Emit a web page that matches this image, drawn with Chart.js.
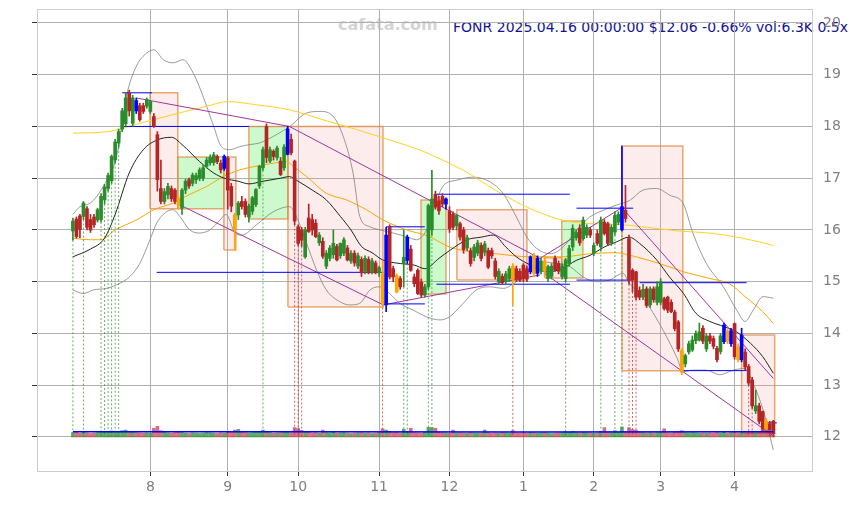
<!DOCTYPE html>
<html lang="en">
<head>
  <meta charset="UTF-8" />
  <title>FONR</title>
  <script src="https://cdn.jsdelivr.net/npm/chart.js"></script>
  <style>
    body { margin: 0; background: #fff; }
    .wrap { position: relative; width: 853px; height: 505px; overflow: hidden; font-family: "DejaVu Sans", sans-serif; }
    .wrap canvas { position: absolute; left: 0; top: 0; z-index: 1; }
    .mark { position: absolute; left: 338px; top: 15px; font-size: 16px; line-height: 20px; font-weight: bold; color: #d4d4d4; white-space: nowrap; }
    .title { position: absolute; left: 453px; top: 18px; font-size: 14px; line-height: 18px; color: #141496; white-space: nowrap; }
  </style>
</head>
<body>
  <div class="wrap">
    <div class="mark">cafata.com</div>
    <div class="title">FONR 2025.04.16 00:00:00 $12.06 -0.66% vol:6.3K 0.5x</div>
    <canvas id="chart" width="853" height="505"></canvas>
  </div>

  <script>
    // trading day index 0 = 2024-07-01, 199 = 2025-04-16
    const monthTicks = [22, 44, 64, 87, 107, 128, 148, 167, 188];
    const monthLabels = ['8', '9', '10', '11', '12', '1', '2', '3', '4'];
    const priceTicks = [12, 13, 14, 15, 16, 17, 18, 19, 20];

    const opens = [
      15.98, 16.21, 16.27, 16.26, 16.41, 16.20, 16.25, 16.19, 16.20, 16.58,
      16.80, 16.95, 17.35, 17.68, 17.95, 18.05, 18.65, 18.06, 18.50, 18.40,
      18.40, 18.39, 18.29, 18.19, 17.84, 16.80, 16.55, 16.68, 16.80, 16.77,
      16.61, 16.42, 16.77, 16.97, 16.90, 16.97, 17.00, 17.00, 17.23, 17.30,
      17.30, 17.42, 17.29, 17.19, 17.39, 16.84, 16.29, 16.29, 16.55, 16.55,
      16.25, 16.36, 16.49, 16.85, 17.20, 18.00, 17.33, 17.52, 17.40, 17.33,
      17.20, 17.46, 17.75, 17.33, 16.06, 16.00, 15.48, 16.23, 16.20, 16.13,
      15.75, 15.78, 15.30, 15.45, 15.52, 15.68, 15.50, 15.55, 15.65, 15.40,
      15.55, 15.30, 15.43, 15.20, 15.43, 15.18, 15.36, 15.17, 15.15, 14.55,
      16.06, 15.25, 15.12, 15.06, 15.35, 15.41, 15.63, 15.09, 15.22, 14.99,
      14.74, 14.90, 16.00, 16.69, 16.56, 16.65, 16.50, 16.37, 16.30, 16.08,
      16.12, 16.00, 15.65, 15.60, 15.47, 15.55, 15.70, 15.57, 15.60, 15.60,
      15.40, 15.00, 15.10, 15.00, 15.06, 15.30, 15.25, 15.20, 15.32, 15.25,
      15.19, 15.51, 15.16, 15.20, 15.40, 15.06, 15.10, 15.45, 15.35, 15.10,
      15.06, 15.35, 15.67, 15.85, 16.03, 15.83, 15.90, 16.00, 15.55, 15.93,
      15.67, 16.15, 16.12, 15.75, 15.96, 16.15, 16.00, 16.38, 15.83, 15.22,
      15.19, 14.83, 14.70, 14.86, 14.55, 14.86, 14.60, 14.60, 14.67, 14.70,
      14.60, 14.41, 14.22, 13.67, 13.41, 13.64, 13.68, 13.86, 13.87, 14.10,
      13.70, 13.95, 13.90, 13.71, 13.65, 13.84, 14.05, 13.80, 14.19, 13.74,
      13.49, 13.64, 13.36, 13.10, 12.50, 12.60, 12.49, 12.30, 12.25, 12.30
    ];
    const highs = [
      16.23, 16.25, 16.30, 16.55, 16.45, 16.30, 16.30, 16.42, 16.70, 16.88,
      17.10, 17.45, 17.75, 17.95, 18.35, 18.65, 18.70, 18.60, 18.55, 18.45,
      18.45, 18.55, 18.50, 18.25, 17.90, 17.35, 16.80, 16.90, 16.85, 16.80,
      16.65, 16.80, 16.98, 17.00, 17.10, 17.10, 17.20, 17.25, 17.40, 17.45,
      17.50, 17.45, 17.35, 17.45, 17.42, 16.90, 16.32, 16.55, 16.65, 16.60,
      16.50, 16.65, 16.80, 17.25, 17.60, 18.05, 17.60, 17.55, 17.62, 17.40,
      17.65, 18.00, 17.85, 17.35, 16.10, 16.05, 16.05, 16.50, 16.30, 16.20,
      15.95, 15.85, 15.60, 15.70, 16.00, 15.72, 15.75, 15.85, 15.70, 15.60,
      15.60, 15.55, 15.48, 15.50, 15.48, 15.45, 15.40, 15.30, 15.40, 16.05,
      16.10, 15.30, 15.15, 15.10, 16.00, 15.90, 15.70, 15.15, 15.25, 15.05,
      14.95, 16.50, 17.15, 16.75, 16.65, 16.70, 16.62, 16.45, 16.35, 16.30,
      16.15, 16.05, 15.90, 15.65, 15.72, 15.80, 15.75, 15.78, 15.65, 15.65,
      15.45, 15.25, 15.15, 15.20, 15.30, 15.35, 15.30, 15.25, 15.35, 15.30,
      15.50, 15.55, 15.50, 15.45, 15.50, 15.32, 15.35, 15.50, 15.40, 15.35,
      15.45, 15.70, 16.10, 16.00, 16.10, 16.25, 16.10, 16.05, 15.75, 16.00,
      16.25, 16.20, 16.15, 16.10, 16.35, 16.35, 17.62, 16.86, 15.90, 15.25,
      15.20, 14.90, 14.95, 14.90, 14.90, 14.90, 15.00, 15.06, 14.70, 14.72,
      14.65, 14.45, 14.25, 13.70, 13.60, 13.85, 13.95, 14.05, 14.20, 14.15,
      14.00, 14.00, 13.95, 13.75, 14.00, 14.20, 14.10, 14.10, 14.20, 13.80,
      14.10, 13.70, 13.40, 13.15, 12.90, 12.65, 12.50, 12.35, 12.30, 12.32
    ];
    const lows = [
      15.80, 15.84, 15.85, 16.20, 16.00, 15.95, 16.05, 16.15, 16.15, 16.50,
      16.75, 16.90, 17.30, 17.60, 17.90, 18.00, 18.20, 18.00, 18.25, 18.10,
      18.25, 18.35, 18.25, 17.98, 16.75, 16.50, 16.50, 16.60, 16.55, 16.50,
      16.40, 16.30, 16.70, 16.80, 16.85, 16.90, 16.95, 16.95, 17.20, 17.25,
      17.25, 17.28, 17.10, 17.15, 16.40, 16.35, 15.61, 16.20, 16.40, 16.25,
      16.15, 16.30, 16.45, 16.80, 17.15, 17.30, 17.30, 17.35, 17.35, 17.05,
      17.15, 17.45, 17.45, 16.10, 15.70, 15.68, 15.45, 15.95, 15.90, 15.85,
      15.70, 15.45, 15.25, 15.40, 15.45, 15.40, 15.45, 15.50, 15.40, 15.35,
      15.30, 15.25, 15.10, 15.15, 15.15, 15.15, 15.15, 15.10, 14.50, 14.42,
      15.05, 15.00, 14.78, 14.85, 14.90, 15.35, 15.20, 14.90, 14.75, 14.70,
      14.70, 14.85, 15.90, 16.40, 16.30, 16.45, 16.40, 15.95, 16.00, 16.00,
      15.80, 15.55, 15.60, 15.30, 15.40, 15.50, 15.40, 15.50, 15.25, 15.45,
      15.05, 14.95, 14.95, 14.95, 15.00, 14.55, 15.00, 15.00, 15.00, 15.00,
      15.15, 15.10, 15.10, 15.15, 15.10, 15.00, 15.05, 15.20, 15.15, 15.05,
      15.00, 15.30, 15.60, 15.80, 15.70, 15.80, 15.85, 15.85, 15.50, 15.70,
      15.60, 15.90, 15.70, 15.70, 15.90, 16.10, 15.98, 16.15, 14.95, 14.80,
      14.65, 14.65, 14.65, 14.50, 14.50, 14.60, 14.55, 14.55, 14.45, 14.40,
      14.40, 14.05, 13.65, 13.20, 13.35, 13.60, 13.65, 13.80, 13.85, 13.80,
      13.65, 13.80, 13.70, 13.45, 13.60, 13.80, 13.80, 13.75, 13.50, 13.45,
      13.45, 13.30, 13.00, 12.55, 12.45, 12.25, 12.10, 12.05, 12.02, 12.00
    ];
    const closes = [
      16.17, 15.87, 16.01, 16.52, 16.05, 16.00, 16.10, 16.39, 16.65, 16.83,
      17.05, 17.42, 17.70, 17.90, 18.30, 18.55, 18.30, 18.55, 18.30, 18.13,
      18.29, 18.52, 18.48, 18.00, 16.97, 16.55, 16.74, 16.84, 16.60, 16.55,
      16.48, 16.77, 16.94, 16.85, 17.06, 17.05, 17.16, 17.20, 17.35, 17.40,
      17.45, 17.32, 17.16, 17.42, 16.77, 16.46, 16.00, 16.52, 16.45, 16.30,
      16.46, 16.62, 16.78, 17.23, 17.55, 17.40, 17.55, 17.42, 17.58, 17.07,
      17.60, 17.95, 17.49, 16.17, 15.74, 15.80, 16.00, 15.97, 16.00, 15.87,
      15.90, 15.49, 15.55, 15.65, 15.74, 15.42, 15.74, 15.81, 15.42, 15.55,
      15.36, 15.50, 15.17, 15.45, 15.17, 15.40, 15.17, 15.27, 14.58, 15.90,
      15.09, 15.09, 14.80, 14.90, 15.47, 15.86, 15.22, 14.96, 14.77, 14.74,
      14.90, 16.47, 16.60, 16.44, 16.37, 16.50, 16.60, 16.02, 16.05, 16.28,
      15.86, 15.62, 15.85, 15.35, 15.67, 15.75, 15.45, 15.73, 15.28, 15.50,
      15.10, 15.20, 14.98, 15.15, 15.25, 15.05, 15.05, 15.03, 15.06, 15.05,
      15.48, 15.16, 15.45, 15.40, 15.20, 15.29, 15.30, 15.23, 15.20, 15.30,
      15.42, 15.64, 16.03, 15.95, 15.75, 16.19, 16.05, 15.90, 15.70, 15.74,
      16.19, 15.93, 15.74, 16.05, 16.28, 16.30, 16.45, 16.22, 15.03, 15.03,
      14.70, 14.70, 14.85, 14.54, 14.86, 14.65, 14.90, 15.00, 14.48, 14.45,
      14.42, 14.09, 13.70, 13.25, 13.57, 13.80, 13.87, 14.00, 14.03, 13.85,
      13.95, 13.85, 13.75, 13.49, 13.95, 14.16, 13.85, 14.05, 13.55, 13.49,
      13.97, 13.35, 13.04, 12.60, 12.60, 12.30, 12.15, 12.08, 12.14, 12.06
    ];
    // volume in thousands
    const volumes = [
      14, 16, 12, 15, 13, 11, 12, 14, 18, 16,
      17, 19, 18, 17, 20, 22, 18, 15, 14, 13,
      12, 13, 12, 28, 34, 20, 15, 13, 12, 14,
      15, 14, 12, 11, 13, 12, 11, 12, 14, 13,
      12, 11, 13, 12, 18, 17, 22, 24, 16, 14,
      13, 14, 15, 17, 22, 18, 14, 12, 13, 14,
      15, 18, 14, 30, 27, 21, 16, 15, 13, 14,
      12, 22, 14, 13, 15, 12, 13, 14, 12, 11,
      12, 13, 14, 12, 13, 11, 12, 14, 26, 22,
      18, 14, 15, 13, 25, 18, 28, 14, 13, 12,
      15, 31, 30, 28, 16, 14, 13, 12, 22, 13,
      14, 13, 12, 14, 13, 12, 13, 22, 14, 12,
      13, 12, 14, 13, 12, 20, 13, 12, 14, 12,
      14, 13, 12, 13, 14, 12, 11, 12, 13, 14,
      16, 15, 18, 14, 13, 15, 14, 13, 12, 13,
      18, 30, 16, 14, 20, 15, 32, 16, 30, 24,
      22, 16, 14, 13, 14, 13, 14, 15, 26, 14,
      13, 16, 18, 20, 14, 13, 14, 13, 12, 13,
      12, 13, 12, 14, 13, 15, 12, 14, 16, 13,
      15, 14, 16, 18, 14, 15, 26, 22, 20, 6.3
    ];
    const volAvg = [[0, 16.5], [60, 16.5], [130, 16], [199, 16.5]];

    const blueDays = [18, 43, 61, 89, 95, 106, 130, 132, 156, 185, 187, 190];
    const orangeDays = [30, 46, 88, 92, 125, 131, 134, 173, 186, 189, 197];
    const greenSignals = [0, 3, 8, 9, 10, 11, 12, 13, 54, 94, 95, 101, 102, 140, 150, 154, 156];
    const redSignals = [63, 64, 65, 88, 125, 158, 159, 160, 192, 193];

    // [day, value]
    const maShort = [[0,15.48],[5,15.63],[9,15.84],[12,16.3],[16,17.1],[20,17.55],[24,17.74],[28,17.79],[31,17.65],[36,17.32],[40,17.1],[43,17.0],[47,16.94],[50,16.89],[54,16.94],[59,17.0],[61.5,17.03],[64,16.94],[68,16.77],[72,16.58],[76,16.26],[79,16.0],[82,15.68],[85,15.56],[88,15.42],[93,15.35],[97,15.32],[100,15.25],[104,15.45],[107,15.6],[112,15.81],[116,15.86],[119.5,15.9],[123,15.67],[126,15.48],[130,15.32],[134.5,15.19],[139,15.25],[143,15.41],[147,15.51],[151,15.67],[154.5,15.77],[158,15.86],[161,15.74],[166,15.41],[169.5,15.09],[173.5,14.77],[177,14.39],[181,14.23],[185,14.13],[188.5,14.03],[192.5,13.81],[196,13.55],[199,13.23]];
    const maMid = [[0,15.84],[5,15.81],[8,15.81],[12,16.0],[18,16.19],[23,16.39],[28.5,16.52],[33,16.68],[38,16.84],[42.7,17.03],[47.4,17.16],[52,17.23],[57,17.29],[60.7,17.32],[62.6,17.23],[66.4,17.03],[72,16.71],[77.7,16.58],[83.4,16.39],[88.2,16.19],[94.8,16.0],[101,15.88],[107,15.67],[113,15.58],[120,15.54],[130,15.48],[139,15.48],[147,15.54],[154,15.56],[160,15.48],[168,15.32],[173.5,15.19],[181,15.06],[186.5,14.96],[191,14.71],[196,14.42],[199,14.19]];
    const maLong = [[0,17.87],[10,17.9],[19,18.06],[28.5,18.23],[38,18.39],[44,18.48],[52,18.42],[61.6,18.32],[71,18.13],[80.6,17.94],[90,17.74],[99.5,17.52],[105,17.35],[111,17.15],[120,16.77],[130,16.41],[139,16.19],[147,16.12],[154,16.11],[163,16.05],[172,15.98],[182,15.93],[191,15.83],[199,15.7]];
    const bandUpper = [[0,16.3],[2,16.45],[5,16.52],[8.6,16.84],[12.4,17.42],[15.2,18.58],[18,19.16],[21,19.42],[23,19.48],[25.7,19.29],[28.5,19.23],[31.3,19.29],[34.2,19.03],[37,18.58],[40,18.0],[42.2,17.61],[44.6,17.55],[47.4,17.61],[50.3,17.65],[53,17.68],[57,17.81],[61.6,18.0],[66.4,18.26],[70.2,18.29],[74,18.19],[76.8,17.81],[79.6,17.1],[81.5,16.26],[84.4,16.06],[87.2,16.0],[91,15.94],[94.8,15.87],[97.6,15.81],[100.5,16.0],[103,16.5],[105.2,16.85],[109,16.96],[113.7,17.02],[118.5,16.93],[122.3,16.7],[126,16.25],[129,15.86],[131.8,15.64],[135.6,15.54],[139.3,15.67],[143,15.99],[146.9,16.25],[150.7,16.38],[154.4,16.48],[158.2,16.57],[162,16.77],[165.8,16.8],[169.6,16.67],[173.4,16.51],[176.2,15.93],[180,15.35],[184.8,14.9],[188.6,14.45],[191,14.23],[193.3,14.45],[196.1,14.71],[199,14.68]];
    const bandLower = [[0,14.84],[3,14.77],[5.8,14.84],[9.6,14.87],[13.4,14.97],[16.2,15.1],[19,15.35],[21.9,15.81],[23.8,16.13],[26.6,16.35],[28.5,16.39],[30.4,16.26],[33.2,16.0],[36,15.94],[38.9,16.0],[41.8,16.19],[43.5,16.3],[46,15.95],[48,15.9],[52.2,16.1],[56.9,16.35],[61.6,16.45],[63.5,16.26],[66.4,15.74],[69.2,15.23],[72,14.84],[75.9,14.61],[78.7,14.55],[81.5,14.58],[84.4,14.84],[87.2,14.9],[90,14.77],[92.9,14.58],[96.7,14.45],[100.5,14.32],[104.3,14.26],[107,14.32],[110.9,14.58],[114.6,14.84],[118.5,14.9],[122.3,14.87],[126,15.0],[129.8,15.22],[133.6,15.38],[137.4,15.35],[141.2,15.29],[145,15.09],[148.7,15.0],[152.5,15.03],[156.3,15.16],[158.2,14.96],[161,14.77],[163.8,14.51],[167.7,14.06],[171.5,13.55],[173.4,13.26],[176.2,13.29],[180,13.29],[183.8,13.2],[187.6,13.29],[190.9,13.32],[193.3,13.03],[196.1,12.52],[199,11.75]];

    // [day0, value0, day1, value1]
    const trendLines = [
      [18, 18.55, 61.5, 18.0],
      [61.5, 18.0, 132.7, 15.45],
      [29.9, 16.5, 88.2, 14.55],
      [88.2, 14.55, 132.7, 15.13],
      [132.7, 15.45, 156, 16.43],
      [156, 16.43, 199, 13.13],
      [134, 15.16, 199, 12.02]
    ];
    // [day0, day1, value]
    const levels = [
      [14, 22.5, 18.65], [14, 50, 18.0], [23.8, 88.2, 15.18],
      [89, 100, 16.06], [89, 100, 14.57],
      [103.3, 141.2, 16.69], [103.3, 141.2, 14.95],
      [143.1, 159.2, 16.42], [143.1, 159.2, 15.03],
      [161, 191.4, 14.98], [173.4, 191.4, 13.28], [197.2, 200, 12.27]
    ];
    // [day0, day1, low, high, kind]
    const boxes = [
      [21.9, 29.8, 16.41, 18.65, 'down'],
      [29.8, 42.9, 16.41, 17.41, 'up'],
      [42.9, 46.3, 15.61, 17.41, 'down'],
      [50, 61.1, 16.21, 18.0, 'up'],
      [61.1, 88.1, 14.51, 18.0, 'down'],
      [98.9, 106, 14.76, 16.58, 'up'],
      [109.1, 129, 15.03, 16.39, 'down'],
      [134.1, 138.9, 15.07, 15.46, 'down'],
      [138.9, 144.9, 15.07, 16.17, 'up'],
      [156, 173.3, 13.28, 17.62, 'down'],
      [190, 199.4, 12.07, 13.97, 'down']
    ];

    const X_MIN = -10.2, X_MAX = 210;
    const Y_MIN = 11.34, Y_MAX = 20.27;
    // volume axis placed so that 0 sits on the 12 line, about 3.2K per pixel
    const VOL_MIN = -109, VOL_MAX = 1370;

    const GREEN = '#2b8c2b', RED = '#b52525', BLUE = '#0000ff', ORANGE = '#ffa500';
    const days = opens.map((_, i) => i);

    function candleColor(i) {
      if (blueDays.includes(i)) return BLUE;
      if (orangeDays.includes(i)) return ORANGE;
      return closes[i] >= opens[i] ? GREEN : RED;
    }
    const colors = days.map(candleColor);
    const volColors = days.map(i => closes[i] >= opens[i] ? 'rgba(43,140,43,0.75)' : 'rgba(195,55,65,0.7)');

    const pts = list => list.map(p => ({ x: p[0], y: p[1] }));
    function segments(list) {
      const out = [];
      list.forEach(s => out.push({ x: s[0], y: s[1] }, { x: s[2], y: s[3] }, { x: s[2], y: null }));
      return out;
    }
    function signalLines(list) {
      return segments(list.map(i => [i, lows[i], i, 12.0]));
    }

    function lineSet(data, color, order, extra) {
      return Object.assign({
        type: 'line', data, borderColor: color, borderWidth: 1, pointRadius: 0,
        fill: false, tension: 0, spanGaps: false, order
      }, extra || {});
    }

    const boxSets = boxes.map(b => ({
      type: 'line',
      data: [{ x: b[0], y: b[2] }, { x: b[1], y: b[2] }, { x: b[1], y: b[3] }, { x: b[0], y: b[3] }, { x: b[0], y: b[2] }],
      borderColor: 'rgba(226,140,70,0.75)',
      borderWidth: 1.5,
      backgroundColor: b[4] === 'up' ? 'rgba(0,230,0,0.2)' : 'rgba(240,160,160,0.2)',
      fill: 'shape', pointRadius: 0, tension: 0, order: 20
    }));

    const smooth = { cubicInterpolationMode: 'monotone' };

    const datasets = [
      ...boxSets,
      lineSet(pts(bandUpper), 'rgba(130,130,130,0.8)', 15, smooth),
      lineSet(pts(bandLower), 'rgba(130,130,130,0.8)', 15, smooth),
      lineSet(pts(maLong), '#ffd21f', 14, smooth),
      lineSet(pts(maMid), '#ffa500', 13, smooth),
      lineSet(pts(maShort), '#222222', 12, smooth),
      lineSet(signalLines(greenSignals), 'rgba(43,140,43,0.7)', 11, { borderDash: [2, 2] }),
      lineSet(signalLines(redSignals), 'rgba(190,40,40,0.7)', 11, { borderDash: [2, 2] }),
      lineSet(segments(trendLines), '#a035a0', 10),
      lineSet(segments(levels.map(l => [l[0], l[2], l[1], l[2]])), BLUE, 9),
      {
        type: 'bar', data: days.map(i => ({ x: i, y: [lows[i], highs[i]] })),
        backgroundColor: colors, grouped: false, barPercentage: 1, categoryPercentage: 1,
        barThickness: 1, maxBarThickness: 1, order: 4
      },
      {
        type: 'bar', data: days.map(i => ({ x: i, y: [Math.min(opens[i], closes[i]), Math.max(opens[i], closes[i])] })),
        backgroundColor: colors, grouped: false, barPercentage: 1, categoryPercentage: 1,
        barThickness: 3, maxBarThickness: 3, order: 3
      },
      {
        type: 'bar', yAxisID: 'yv', data: days.map(i => ({ x: i, y: volumes[i] })),
        backgroundColor: volColors, grouped: false, barPercentage: 1, categoryPercentage: 1,
        barThickness: 3, maxBarThickness: 3, order: 2
      },
      lineSet(pts(volAvg), BLUE, 1, { yAxisID: 'yv', borderWidth: 1.5 })
    ];

    Chart.defaults.font.family = '"DejaVu Sans", sans-serif';

    function noPad(s) {
      s.paddingTop = 0; s.paddingBottom = 0; s.paddingLeft = 0; s.paddingRight = 0;
    }

    new Chart(document.getElementById('chart'), {
      type: 'bar',
      data: { datasets },
      options: {
        responsive: false,
        animation: false,
        devicePixelRatio: 1,
        layout: { padding: 0 },
        plugins: { legend: { display: false }, tooltip: { enabled: false } },
        scales: {
          x: {
            type: 'linear', position: 'bottom', min: X_MIN, max: X_MAX, offset: false,
            afterBuildTicks: s => { s.ticks = monthTicks.map(v => ({ value: v })); },
            afterFit: s => { s.height = 34; noPad(s); },
            grid: { color: '#b0b0b0', offset: false, tickLength: 5, tickColor: '#333' },
            border: { color: '#cccccc' },
            ticks: {
              color: '#808080', font: { size: 14 }, padding: 3, maxRotation: 0, autoSkip: false,
              callback: v => monthLabels[monthTicks.indexOf(v)]
            }
          },
          xt: {
            type: 'linear', position: 'top', min: X_MIN, max: X_MAX, offset: false,
            afterBuildTicks: s => { s.ticks = []; },
            afterFit: s => { s.height = 9; noPad(s); },
            grid: { drawOnChartArea: false, drawTicks: false },
            border: { color: '#cccccc', dash: [2, 2] },
            ticks: { display: false }
          },
          y: {
            position: 'left', min: Y_MIN, max: Y_MAX,
            afterBuildTicks: s => { s.ticks = priceTicks.map(v => ({ value: v })); },
            afterFit: s => { s.width = 37; noPad(s); },
            grid: { color: '#b0b0b0', tickLength: 5, tickColor: '#333' },
            border: { color: '#cccccc' },
            ticks: { display: false }
          },
          y2: {
            position: 'right', min: Y_MIN, max: Y_MAX,
            afterBuildTicks: s => { s.ticks = priceTicks.map(v => ({ value: v })); },
            afterFit: s => { s.width = 41; noPad(s); },
            grid: { drawOnChartArea: false, drawTicks: false },
            border: { color: '#cccccc' },
            ticks: { color: '#808080', font: { size: 14 }, padding: 11, callback: v => String(v) }
          },
          yv: { display: false, min: VOL_MIN, max: VOL_MAX }
        }
      }
    });
  </script>
</body>
</html>
